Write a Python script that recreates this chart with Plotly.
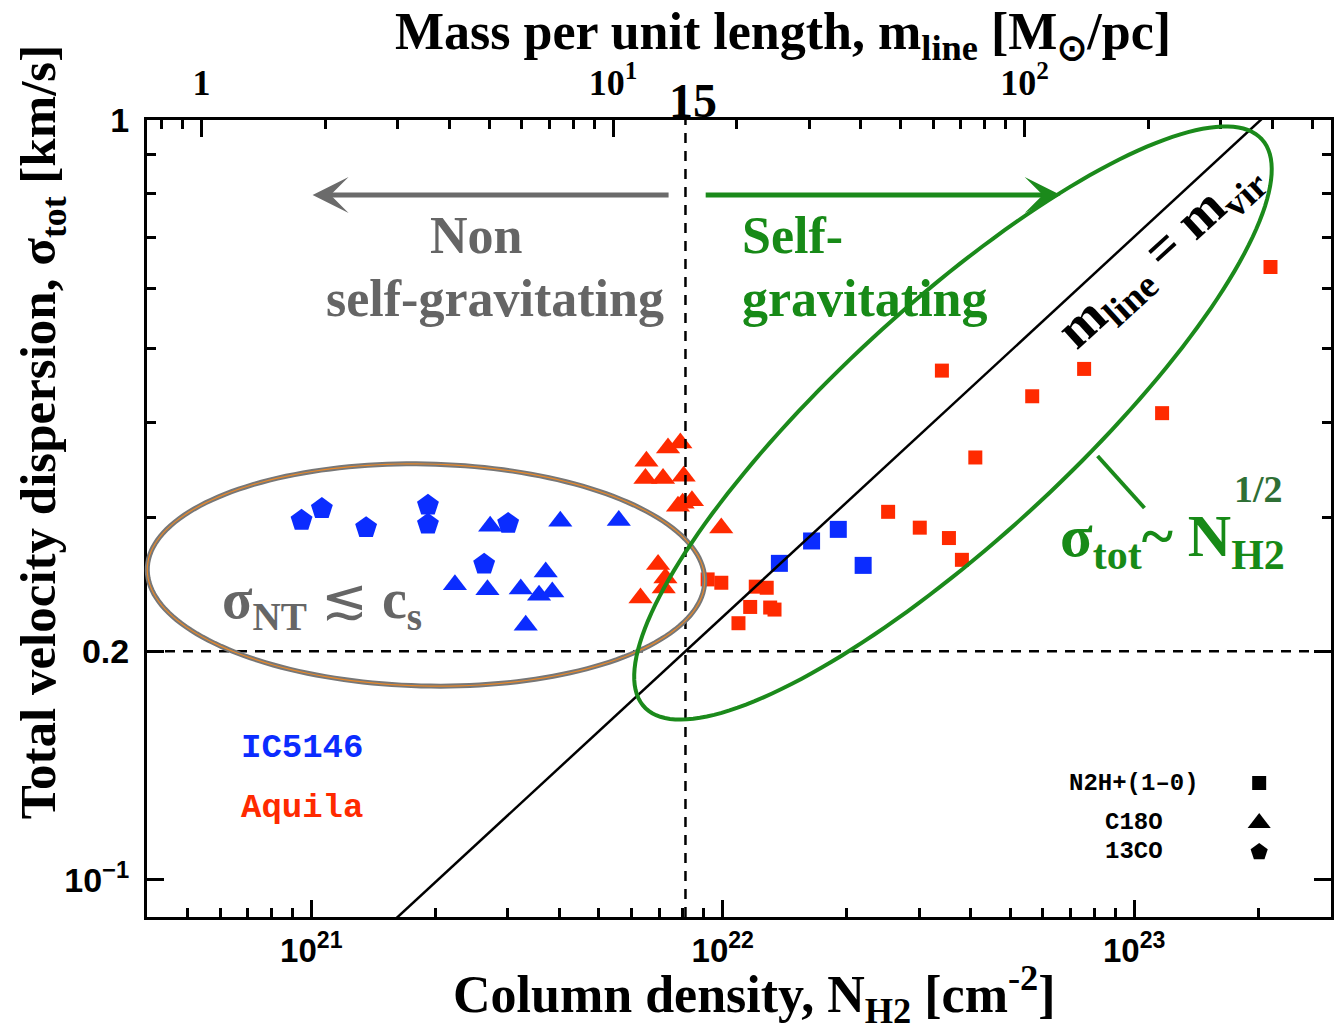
import numpy as np
import plotly.graph_objects as go

# ---------------- data ----------------
# IC5146 (blue)
ic_13co_N = [9.47e20, 1.061e21, 1.359e21, 1.921e21, 1.921e21, 2.631e21, 3.009e21]
ic_13co_s = [0.2973, 0.3081, 0.2908, 0.3112, 0.2938, 0.2603, 0.2946]
ic_c18o_N = [2.721e21, 4.029e21, 5.589e21, 2.234e21, 2.680e21, 3.229e21, 3.713e21, 3.577e21, 3.852e21, 3.320e21]
ic_c18o_s = [0.2920, 0.2965, 0.2971, 0.2446, 0.2410, 0.2415, 0.2543, 0.2369, 0.2393, 0.2163]
ic_n2h_N = [1.373e22, 1.644e22, 1.909e22, 2.194e22]
ic_n2h_s = [0.2610, 0.2793, 0.2893, 0.2594]
# Aquila (red)
aq_c18o_N = [6.524e21, 7.362e21, 7.888e21, 6.488e21, 7.160e21, 8.035e21, 7.784e21, 7.99e21,
             8.417e21, 9.917e21, 6.963e21, 7.255e21, 7.187e21, 6.310e21]
aq_c18o_s = [0.3556, 0.3702, 0.3758, 0.3374, 0.3374, 0.3397, 0.3102, 0.3131,
             0.3156, 0.2904, 0.2600, 0.2496, 0.2422, 0.2350]
aq_n2h_N = [9.19e21, 9.92e21, 1.203e22, 1.279e22, 1.166e22, 1.304e22, 1.336e22, 1.092e22,
            2.523e22, 3.012e22, 3.546e22, 3.813e22, 3.409e22, 4.110e22, 5.651e22, 7.556e22,
            1.169e23, 2.144e23]
aq_n2h_s = [0.2486, 0.2461, 0.2432, 0.2424, 0.2287, 0.2283, 0.2269, 0.2177,
            0.3051, 0.2908, 0.2818, 0.2638, 0.4680, 0.3597, 0.4330, 0.4704,
            0.4114, 0.6406]

# thresholds / relation
m_crit = 15.0          # M_sun/pc
sigma_crit = 0.2       # km/s
logN_offset = 20.7333  # log10(N) - log10(m_line)

# axis tick values
x_major = [1e21, 1e22, 1e23]
x_major_text = ["10<sup>21</sup>", "10<sup>22</sup>", "10<sup>23</sup>"]
x_minor = [5e20, 6e20, 7e20, 8e20, 9e20] + [k * 1e21 for k in range(2, 10)] + \
          [k * 1e22 for k in range(2, 10)] + [2e23, 3e23]
m_major = [1, 10, 100]
m_major_text = ["1", "10<sup>1</sup>", "10<sup>2</sup>"]
m_minor = [0.8, 0.9] + list(range(2, 10)) + list(range(20, 100, 10)) + [200, 300, 400, 500]
y_major = [0.1, 0.2, 1]
y_major_text = ["10<sup>\u22121</sup>", "0.2", "1"]
y_minor = [0.3, 0.4, 0.5, 0.6, 0.7, 0.8, 0.9]

# ---------------- geometry helpers ----------------
W, H = 1338, 1034
X0, X1, Y0, Y1 = 147, 1334, 120, 917
xr = [20.6007, 23.4783]
yr = [-1.0487, 0.0]
mr = [xr[0] - logN_offset, xr[1] - logN_offset]


def px(x):
    return (x - X0) / (X1 - X0)


def py(y):
    return (Y1 - y) / (Y1 - Y0)


def pN(x):
    return 10 ** (xr[0] + (x - X0) / (X1 - X0) * (xr[1] - xr[0]))


def ps(y):
    return 10 ** (yr[1] - (y - Y0) / (Y1 - Y0) * (yr[1] - yr[0]))


def ellipse_path(cx, cy, a, b, ang, n=180):
    t = np.linspace(0, 2 * np.pi, n)
    th = np.radians(ang)
    xs = cx + a * np.cos(t) * np.cos(th) - b * np.sin(t) * np.sin(th)
    ys = cy - (a * np.cos(t) * np.sin(th) + b * np.sin(t) * np.cos(th))
    pts = [f"{px(x):.5f},{py(y):.5f}" for x, y in zip(xs, ys)]
    return "M" + " L".join(pts) + " Z"


BLUE = "#0b2cff"
RED = "#ff2a00"
GREEN = "#178a17"
GRAY = "#656565"
SERIF = "Liberation Serif"
SANS = "Liberation Sans"
MONO = "Liberation Mono"

fig = go.Figure()

# virial relation line (on the m_line axis) and threshold lines
m_line = np.array([10 ** mr[0], 10 ** mr[1]])
fig.add_trace(go.Scatter(x=m_line, y=sigma_crit * np.sqrt(m_line / m_crit), xaxis="x2", yaxis="y",
                         mode="lines", line=dict(color="black", width=2.5), hoverinfo="skip"))
fig.add_trace(go.Scatter(x=[m_crit, m_crit], y=[10 ** yr[0], 10 ** yr[1]], xaxis="x2", yaxis="y",
                         mode="lines", line=dict(color="black", width=2.5, dash="10px,8px"), hoverinfo="skip"))
fig.add_trace(go.Scatter(x=[10 ** xr[0], 10 ** xr[1]], y=[sigma_crit, sigma_crit],
                         mode="lines", line=dict(color="black", width=2.5, dash="10px,8px"), hoverinfo="skip"))

# data
fig.add_trace(go.Scatter(x=ic_13co_N, y=ic_13co_s, mode="markers", name="IC5146 13CO",
                         marker=dict(symbol="pentagon", size=23, color=BLUE, line=dict(width=0))))
fig.add_trace(go.Scatter(x=ic_c18o_N, y=ic_c18o_s, mode="markers", name="IC5146 C18O",
                         marker=dict(symbol="triangle-up", size=21, color=BLUE, line=dict(width=0))))
fig.add_trace(go.Scatter(x=ic_n2h_N, y=ic_n2h_s, mode="markers", name="IC5146 N2H+",
                         marker=dict(symbol="square", size=17, color=BLUE, line=dict(width=0))))
fig.add_trace(go.Scatter(x=aq_c18o_N, y=aq_c18o_s, mode="markers", name="Aquila C18O",
                         marker=dict(symbol="triangle-up", size=21, color=RED, line=dict(width=0))))
fig.add_trace(go.Scatter(x=aq_n2h_N, y=aq_n2h_s, mode="markers", name="Aquila N2H+",
                         marker=dict(symbol="square", size=14, color=RED, line=dict(width=0))))

# legend keys
fig.add_trace(go.Scatter(x=[pN(1262)], y=[ps(783)], mode="markers", hoverinfo="skip",
                         marker=dict(symbol="square", size=14, color="black")))
fig.add_trace(go.Scatter(x=[pN(1262)], y=[ps(823)], mode="markers", hoverinfo="skip",
                         marker=dict(symbol="triangle-up", size=20, color="black")))
fig.add_trace(go.Scatter(x=[pN(1262)], y=[ps(852)], mode="markers", hoverinfo="skip",
                         marker=dict(symbol="pentagon", size=18, color="black")))

shapes = [
    dict(type="path", xref="paper", yref="paper", path=ellipse_path(426.7, 575, 279.5, 111, -1.3),
         line=dict(color="#777777", width=5), layer="above"),
    dict(type="path", xref="paper", yref="paper", path=ellipse_path(426.7, 575, 279.5, 111, -1.3),
         line=dict(color="#e8892b", width=1.2), layer="above"),
    dict(type="path", xref="paper", yref="paper", path=ellipse_path(955, 423, 420, 117, 42.5),
         line=dict(color="#1b8a1b", width=4), layer="above"),
    dict(type="line", xref="paper", yref="paper", x0=px(1100), y0=py(456), x1=px(1147), y1=py(508),
         line=dict(color="#1b8a1b", width=4)),
]

ann = []


def text(x, y, t, size, color="black", family=SERIF, xanchor="center", yanchor="middle", angle=0, weight="bold"):
    ann.append(dict(x=px(x), y=py(y), xref="paper", yref="paper", text=t, showarrow=False,
                    xanchor=xanchor, yanchor=yanchor, textangle=angle,
                    font=dict(family=family, size=size, color=color, weight=weight)))


# arrows
ann.append(dict(x=px(313), y=py(195), xref="paper", yref="paper", ax=359, ay=0, axref="pixel", ayref="pixel",
                showarrow=True, arrowhead=3, arrowsize=1.2, arrowwidth=5, arrowcolor="#6b6b6b", text=" ",
                font=dict(size=10)))
ann.append(dict(x=px(1063), y=py(195), xref="paper", yref="paper", ax=-358, ay=0, axref="pixel", ayref="pixel",
                showarrow=True, arrowhead=3, arrowsize=1.2, arrowwidth=5, arrowcolor="#1b8a1b", text=" ",
                font=dict(size=10)))

# axis titles
text(785, 1, "Mass per unit length, m<sub>line</sub> [M<sub>\u2299</sub>/pc]", 52, yanchor="top")
text(756, 1033, "Column density, N<sub>H2</sub> [cm<sup>-2</sup>]", 52, yanchor="bottom")
text(42, 432, "Total velocity dispersion, \u03c3<sub>tot</sub> [km/s]", 51, angle=-90)
text(694, 100, "15", 48)

# region labels
text(477, 235, "Non", 52, GRAY)
text(496, 298, "self-gravitating", 52, GRAY)
text(742, 235, "Self-", 52, GREEN, xanchor="left")
text(742, 298, "gravitating", 52, GREEN, xanchor="left")
text(1163, 255, "m<sub>line</sub> = m<sub>vir</sub>", 54, "black", angle=-42.5)
text(1060, 540, "\u03c3<sub>tot</sub>~ N<sub>H2</sub>", 60, GREEN, xanchor="left")
text(1261, 489, "1/2", 38, "#2f6f35")
text(220, 603, "\u03c3<sub>NT</sub> <span style='font-weight:normal'>\u2272</span> c<sub>s</sub>", 56, "#666666",
     xanchor="left")

# cloud labels and key
text(302, 748, "IC5146", 34, BLUE, family=MONO)
text(302, 808, "Aquila", 34, RED, family=MONO)
text(1137, 783, "N2H+(1\u20130)", 24, "black", family=MONO)
text(1137, 822, "C18O", 24, "black", family=MONO)
text(1137, 851, "13CO", 24, "black", family=MONO)

axis_common = dict(showgrid=False, zeroline=False, showline=True, linecolor="black", linewidth=3,
                   ticks="inside", ticklen=17, tickwidth=3, tickcolor="black")

fig.update_layout(
    width=W, height=H, autosize=False,
    margin=dict(l=X0, r=W - X1, t=Y0, b=H - Y1, pad=0),
    paper_bgcolor="white", plot_bgcolor="white",
    showlegend=False, hovermode=False,
    xaxis=dict(type="log", range=xr, tickmode="array", tickvals=x_major, ticktext=x_major_text,
               tickfont=dict(family=SANS, size=33, color="black", weight="bold"), ticklabelstandoff=2,
               minor=dict(tickmode="array", tickvals=x_minor, ticks="inside", ticklen=9, tickwidth=3,
                          tickcolor="black"),
               mirror=False, **axis_common),
    xaxis2=dict(type="log", range=mr, overlaying="x", side="top", anchor="y", tickmode="array",
                tickvals=m_major, ticktext=m_major_text, ticklabelstandoff=8,
                tickfont=dict(family=SERIF, size=36, color="black", weight="bold"),
                minor=dict(tickmode="array", tickvals=m_minor, ticks="inside", ticklen=9, tickwidth=3,
                           tickcolor="black"),
                **axis_common),
    yaxis=dict(type="log", range=yr, tickmode="array", tickvals=y_major, ticktext=y_major_text,
               tickfont=dict(family=SANS, size=34, color="black", weight="bold"), ticklabelstandoff=8,
               minor=dict(tickmode="array", tickvals=y_minor, ticks="inside", ticklen=9, tickwidth=3,
                          tickcolor="black"),
               mirror="ticks", **axis_common),
    shapes=shapes,
    annotations=ann,
)

fig.write_html("out.html", config=dict(displayModeBar=False))
